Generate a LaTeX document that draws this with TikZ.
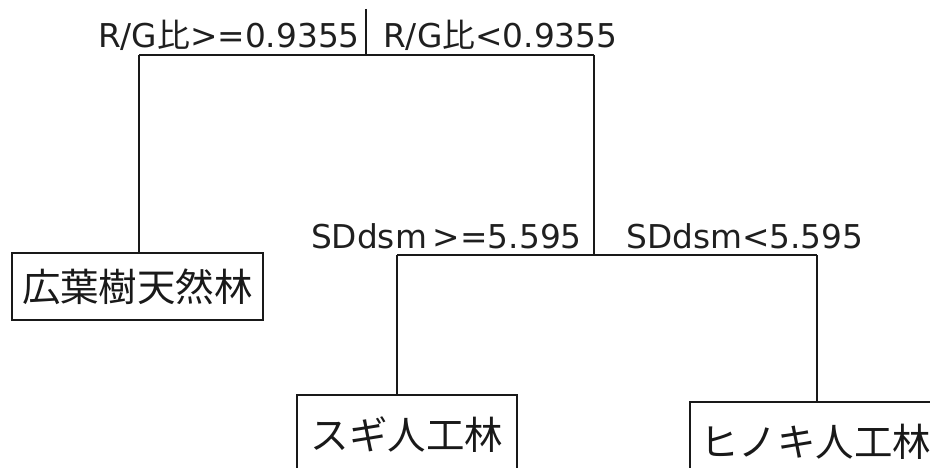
\documentclass[tikz,border=0pt]{standalone}
\usepackage{fontspec}
\newfontfamily\cjkfont{Noto Sans CJK JP}
\newfontfamily\latfont{DejaVu Sans}
\begin{document}
\begin{tikzpicture}[x=1pt,y=-1pt,
  edge/.style={line width=1.8pt,draw=black!90},
  lbl/.style={inner sep=0pt,text=black!88,font=\latfont\fontsize{32.8}{38}\selectfont},
  leaf/.style={draw=black!90,line width=1.8pt,fill=white,inner sep=0pt,text=black!90,
    font=\cjkfont\fontsize{38.5}{44}\selectfont}]
\useasboundingbox (0,0) rectangle (930,468);
\clip (0,0) rectangle (930,468);
% coordinates
\coordinate (r0) at (366,9);
\coordinate (s1) at (366,55);
\coordinate (s1L) at (139,55);
\coordinate (s1R) at (594,55);
\coordinate (s2) at (594,255);
\coordinate (s2L) at (397,255);
\coordinate (s2R) at (817,255);
% leaves
\node[leaf,minimum width=251pt,minimum height=67pt] (kouyou) at (137.5,286.5) {広葉樹天然林};
\node[leaf,minimum width=220pt,minimum height=80pt] (sugi) at (407,435) {スギ人工林};
\node[leaf,minimum width=251pt,minimum height=80pt] (hinoki) at (815.5,442) {ヒノキ人工林};
% connectors
\draw[edge] (r0) -- (s1);
\draw[edge] (s1L) -- (s1R);
\draw[edge] (s1L) -- (s1L |- kouyou.north);
\draw[edge] (s1R) -- (s2);
\draw[edge] (s2L) -- (s2R);
\draw[edge] (s2L) -- (s2L |- sugi.north);
\draw[edge] (s2R) -- (s2R |- hinoki.north);
% labels
\node[lbl,anchor=base east] (l1) at (360,48) {R/G{\cjkfont 比}>=0.9355};
\node[lbl,anchor=base west] (l2) at (383,48) {R/G{\cjkfont 比}<0.9355};
\node[lbl,anchor=base east] (l3) at (582,248) {SDdsm\hspace{6pt}>=5.595};
\node[lbl,anchor=base west] (l4) at (626,248) {SDdsm<5.595};
\end{tikzpicture}
\end{document}
